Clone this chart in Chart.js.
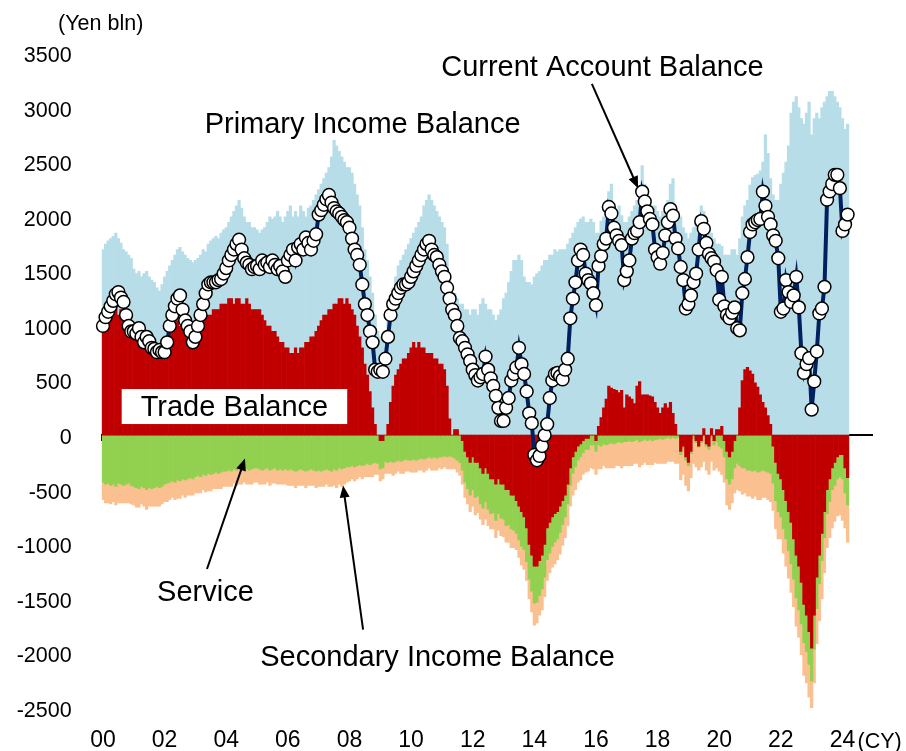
<!DOCTYPE html>
<html>
<head>
<meta charset="utf-8">
<script src="https://cdn.jsdelivr.net/npm/chart.js@4.4.0/dist/chart.umd.min.js"></script>
<style>
  html, body { margin: 0; padding: 0; background: #fff; }
  #wrap { width: 906px; height: 751px; }
</style>
</head>
<body>
<div id="wrap"><canvas id="bopChart" width="906" height="751"></canvas></div>
<script>
// Japan balance of payments, monthly, Jan 2000 - Mar 2024 (Yen bln)
const startYear = 2000;
const endYear = 2024;
const yearTicks = ['00', '02', '04', '06', '08', '10', '12', '14', '16', '18', '20', '22', '24'];

const tradeBalance = [
  1050, 1100, 1150, 1150, 1200, 1150, 1100, 1150, 1100, 1050, 1050, 1000,
  950, 900, 850, 850, 800, 800, 750, 750, 750, 700, 750, 750,
  800, 850, 950, 1000, 1050, 1050, 1000, 1050, 1000, 1000, 950, 1000,
  1000, 1000, 1050, 1050, 1100, 1100, 1100, 1150, 1150, 1150, 1200, 1200,
  1200, 1250, 1250, 1200, 1250, 1250, 1200, 1200, 1250, 1200, 1150, 1150,
  1150, 1150, 1100, 1050, 1000, 1000, 950, 950, 900, 850, 850, 800,
  800, 750, 750, 800, 750, 800, 800, 850, 850, 900, 900, 950,
  1000, 1050, 1100, 1100, 1150, 1150, 1200, 1200, 1250, 1250, 1200, 1250,
  1200, 1150, 1100, 1000, 900, 800, 650, 550, 400, 250, 100, 0,
  -50, -50, 0, 100, 300, 450, 550, 600, 650, 700, 700, 750,
  800, 850, 800, 850, 800, 800, 750, 750, 750, 700, 700, 650,
  650, 600, 450, 150, 0, 50, 50, 0, -50, -150, -200, -250,
  -200, -250, -250, -300, -350, -300, -350, -400, -400, -450, -400, -450,
  -450, -500, -500, -550, -550, -600, -650, -700, -750, -850, -1000, -1100,
  -1200, -1200, -1150, -1100, -1000, -850, -800, -750, -720, -700, -650, -600,
  -550, -450, -300, -200, -150, -100, -80, -50, -30, -30, 0, 0,
  -50, 80, 160, 250, 330, 450, 430, 420, 410, 390, 410, 250,
  370, 350, 330, 290, 450, 490, 370, 370, 370, 360, 350, 300,
  250, 200, 250, 290, 250, 300, 200, 100, 0, -150, -100, -200,
  -250, -150, 0, -50, -100, -50, 60, -80, -100, 60, -50, 50,
  50, 80, -50, -150, -200, -150, -50, 0, 250, 500, 600, 620,
  590, 560, 480, 440, 370, 300, 250, 180, 100, -100, -250, -350,
  -400, -500, -600, -700, -800, -950, -1100, -1200, -1350, -1550, -1650, -1800,
  -1950, -1650, -1300, -1100, -900, -700, -500, -400, -300, -250, -200, -180,
  -180, -300, -390
];

const serviceBalance = [
  -430, -450, -440, -460, -450, -470, -440, -450, -460, -450, -440, -460,
  -470, -480, -490, -470, -480, -500, -480, -490, -480, -470, -480, -470,
  -450, -440, -430, -420, -430, -410, -420, -400, -410, -400, -390, -400,
  -380, -370, -380, -360, -370, -350, -360, -350, -340, -350, -340, -330,
  -330, -320, -330, -310, -320, -300, -310, -300, -310, -320, -310, -300,
  -300, -310, -320, -310, -300, -320, -310, -300, -320, -310, -320, -310,
  -320, -310, -320, -330, -320, -310, -320, -330, -320, -310, -320, -330,
  -320, -330, -320, -310, -320, -330, -310, -320, -300, -310, -300, -290,
  -290, -280, -290, -280, -270, -280, -270, -260, -270, -260, -250, -260,
  -260, -250, -240, -250, -240, -250, -240, -230, -240, -230, -220, -230,
  -230, -220, -230, -220, -210, -220, -210, -200, -210, -200, -210, -200,
  -200, -190, -200, -190, -200, -210, -230, -250, -270, -280, -290, -300,
  -300, -320, -310, -330, -320, -310, -330, -320, -310, -330, -320, -310,
  -320, -330, -320, -310, -320, -300, -310, -320, -300, -310, -320, -330,
  -340, -330, -320, -310, -300, -290, -280, -270, -260, -250, -240, -220,
  -200, -180, -160, -150, -140, -130, -120, -110, -100, -100, -90, -90,
  -100, -90, -100, -80, -90, -80, -70, -80, -70, -60, -70, -60,
  -60, -50, -60, -50, -40, -60, -50, -40, -50, -40, -50, -40,
  -40, -30, -40, -30, -20, -30, -20, -30, -20, -30, -20, -30,
  -30, -20, -30, -20, -10, -20, -10, -20, -30, -20, -40, -60,
  -100, -120, -150, -250, -250, -250, -250, -260, -280, -300, -300, -320,
  -320, -330, -320, -340, -330, -320, -330, -340, -350, -340, -350, -350,
  -350, -360, -350, -360, -380, -370, -390, -400, -380, -350, -330, -300,
  -300, -310, -290, -260, -250, -240, -220, -210, -200, -210, -200, -200,
  -220, -230, -250
];

const secondaryIncome = [
  -160, -170, -180, -170, -160, -170, -180, -170, -160, -170, -180, -170,
  -170, -180, -170, -160, -170, -180, -170, -160, -170, -180, -170, -160,
  -160, -170, -160, -150, -160, -170, -160, -150, -160, -150, -160, -150,
  -150, -160, -150, -140, -150, -160, -150, -140, -150, -140, -150, -140,
  -140, -150, -140, -130, -140, -150, -140, -130, -140, -130, -140, -130,
  -130, -140, -130, -140, -130, -140, -130, -140, -130, -140, -130, -140,
  -140, -150, -140, -150, -140, -150, -140, -150, -140, -150, -140, -150,
  -150, -140, -150, -140, -150, -140, -150, -160, -150, -160, -150, -140,
  -130, -120, -130, -120, -110, -120, -110, -120, -110, -120, -110, -100,
  -110, -100, -110, -100, -110, -120, -110, -100, -110, -120, -110, -100,
  -110, -120, -110, -100, -110, -120, -110, -100, -110, -120, -110, -100,
  -110, -100, -110, -120, -110, -100, -110, -120, -130, -140, -140, -150,
  -150, -160, -150, -140, -150, -160, -150, -140, -150, -160, -150, -160,
  -160, -150, -160, -170, -160, -150, -160, -170, -180, -170, -180, -190,
  -200, -190, -180, -190, -180, -190, -180, -190, -200, -190, -200, -190,
  -190, -200, -190, -200, -210, -200, -210, -200, -210, -200, -210, -220,
  -210, -220, -210, -200, -210, -220, -230, -220, -210, -220, -230, -220,
  -220, -230, -220, -210, -220, -230, -220, -210, -220, -230, -220, -210,
  -220, -230, -220, -230, -220, -210, -220, -230, -240, -230, -240, -230,
  -230, -220, -230, -220, -210, -220, -230, -220, -230, -220, -230, -240,
  -230, -240, -230, -240, -230, -220, -230, -240, -230, -240, -230, -240,
  -240, -250, -240, -250, -260, -250, -240, -250, -260, -250, -260, -250,
  -200, -220, -250, -250, -260, -250, -260, -250, -280, -300, -290, -300,
  -300, -310, -320, -340, -350, -320, -310, -330, -350, -330, -340, -350,
  -380, -320, -340
];

const primaryIncome = [
  650, 650, 630, 650, 620, 700, 700, 610, 600, 630, 600, 620,
  570, 580, 650, 600, 680, 700, 700, 670, 650, 650, 570, 630,
  650, 650, 600, 600, 600, 650, 720, 630, 650, 620, 650, 580,
  600, 620, 600, 650, 580, 650, 680, 650, 670, 650, 650, 680,
  700, 700, 750, 850, 850, 900, 880, 800, 700, 750, 750, 750,
  730, 700, 780, 850, 950, 1000, 1030, 1050, 1150, 1150, 1100, 1200,
  1250, 1350, 1250, 1250, 1250, 1300, 1250, 1150, 1230, 1200, 1250, 1250,
  1250, 1250, 1250, 1300, 1300, 1400, 1500, 1450, 1350, 1300, 1300, 1200,
  1250, 1250, 1200, 1200, 1200, 1100, 1050, 1050, 1050, 1050, 1000, 950,
  900, 880, 950, 950, 900, 900, 900, 950, 950, 950, 1000, 1000,
  1000, 1000, 1100, 1100, 1200, 1300, 1400, 1450, 1400, 1400, 1350, 1350,
  1300, 1300, 1300, 1300, 1300, 1250, 1200, 1200, 1200, 1150, 1150, 1100,
  1150, 1150, 1100, 1200, 1250, 1200, 1150, 1150, 1100, 1050, 1100, 1150,
  1250, 1300, 1400, 1500, 1600, 1600, 1650, 1600, 1450, 1400, 1400, 1380,
  1450, 1480, 1500, 1550, 1600, 1600, 1650, 1650, 1700, 1680, 1700, 1700,
  1700, 1750, 1800, 1850, 1900, 1950, 1980, 2000, 1950, 1950, 1980, 1950,
  1850, 1770, 1800, 1750, 1750, 1780, 1870, 1700, 1640, 1710, 1600, 1700,
  1580, 1650, 1720, 1810, 1700, 1710, 2100, 1930, 1830, 1790, 1750, 1800,
  1800, 1800, 1800, 1810, 1900, 2000, 2150, 2000, 2050, 2000, 1900, 1850,
  1800, 1850, 1900, 1950, 2000, 2100, 1990, 1950, 1900, 1790, 1800, 1700,
  1700, 1650, 1650, 1650, 1650, 1700, 1700, 1650, 1550, 1500, 1500, 1530,
  1700, 1800, 1900, 1950, 2050, 2200, 2500, 2400, 2250, 2200, 2150, 2150,
  2300, 2400, 2500, 2650, 2950, 3050, 3100, 3000, 2900, 2850, 2950, 3050,
  2750, 2900, 2950, 2900, 3000, 3050, 3100, 3150, 3150, 3100, 3050, 3000,
  2900, 2800, 2850
];

const currentAccount = [
  1000, 1080, 1130, 1180, 1230, 1290, 1310, 1260, 1220, 1100, 1000, 950,
  950, 930, 980, 900, 850, 900, 860, 800, 790, 760, 780, 760,
  760, 850, 1000, 1100, 1180, 1250, 1280, 1150, 1050, 1000, 950, 850,
  900, 1000, 1100, 1200, 1300, 1380, 1400, 1400, 1400, 1420, 1430, 1480,
  1530, 1600, 1650, 1700, 1750, 1790, 1700, 1620, 1580, 1560, 1520, 1540,
  1550, 1520, 1600, 1560, 1580, 1540, 1600, 1560, 1520, 1550, 1500, 1450,
  1600, 1650, 1700, 1600, 1720, 1750, 1700, 1810, 1760, 1700, 1780, 1840,
  2020, 2060, 2110, 2160, 2200, 2130, 2080, 2050, 2030, 2000, 1970, 1950,
  1900, 1800, 1700, 1650, 1560, 1380, 1200, 1100, 950, 850, 600, 580,
  600, 580, 700, 900, 1100, 1200, 1250, 1300, 1350, 1380, 1380, 1400,
  1450, 1500, 1550, 1600, 1650, 1700, 1750, 1780, 1700, 1650, 1630, 1560,
  1500, 1450, 1350, 1250, 1150, 1100, 1000, 890, 860, 800, 740, 680,
  600, 550, 500, 530, 560, 720, 600, 520, 450, 360, 250, 130,
  130, 250, 340, 500, 560, 620, 800, 650, 560, 400, 200, 110,
  -180, -230, -190, -100, 0, 100, 340, 500, 560, 570, 540, 510,
  600, 700, 1070, 1250, 1400, 1600, 1700, 1650, 1480, 1420, 1390, 1300,
  1190, 1550, 1640, 1750, 1800, 2090, 2030, 1900, 1830, 1780, 1740, 1420,
  1500, 1600, 1800, 1850, 1870, 1950, 2230, 2140, 2050, 1980, 1930, 1700,
  1630, 1570, 1670, 1830, 1950, 2070, 2010, 1800, 1710, 1540, 1420, 1160,
  1200, 1280, 1400, 1480, 1700, 1960, 1890, 1760, 1660, 1620, 1590, 1510,
  1240, 1450, 1180, 1100, 1070, 1120, 1170, 980, 960, 1300, 1430, 1630,
  1860, 1930, 1950, 1970, 1980, 2230, 2100, 2000, 1930, 1830, 1780, 1620,
  1130, 1160, 1420, 1310, 1220, 1280, 1450, 1170, 750, 570, 650, 705,
  234, 492, 766, 1115, 1160, 1358, 2157, 2232, 2300, 2384, 2384, 2262,
  1870, 1930, 2020
];

// annotation anchors in chart units: [month index from Jan 2000, Yen bln]
const labelNotes = [
  { text: 'Current Account Balance', at: [194.5, 3370] },
  { text: 'Primary Income Balance', at: [101.1, 2850] },
  { text: 'Trade Balance', at: [51.2, 262], box: true },
  { text: 'Service', at: [39.9, -1440] },
  { text: 'Secondary Income Balance', at: [130.3, -2030] }
];
const labelArrows = [
  { from: [190.4, 3218], to: [208.4, 2262] },
  { from: [40.5, -1226], to: [55.3, -215] },
  { from: [101.3, -1781], to: [93.5, -461] }
];

const months = [];
for (let yr = startYear; yr <= endYear; yr++) {
  for (let m = 1; m <= 12; m++) months.push(yr + '-' + String(m).padStart(2, '0'));
}

const FONT = '"Liberation Sans", Arial, sans-serif';

function drawArrow(ctx, x1, y1, x2, y2) {
  const a = Math.atan2(y2 - y1, x2 - x1);
  const len = 12, half = 5;
  ctx.beginPath();
  ctx.moveTo(x1, y1);
  ctx.lineTo(x2 - len * 0.7 * Math.cos(a), y2 - len * 0.7 * Math.sin(a));
  ctx.lineWidth = 2;
  ctx.stroke();
  ctx.beginPath();
  ctx.moveTo(x2, y2);
  ctx.lineTo(x2 - len * Math.cos(a) + half * Math.sin(a), y2 - len * Math.sin(a) - half * Math.cos(a));
  ctx.lineTo(x2 - len * Math.cos(a) - half * Math.sin(a), y2 - len * Math.sin(a) + half * Math.cos(a));
  ctx.closePath();
  ctx.fill();
}

const annotate = {
  id: 'annotate',
  afterDraw(chart) {
    const { ctx, chartArea } = chart;
    const x = chart.scales.x, y = chart.scales.y;
    ctx.save();
    ctx.fillStyle = '#000';
    ctx.strokeStyle = '#000';
    ctx.textBaseline = 'middle';
    ctx.textAlign = 'center';
    ctx.font = '29px ' + FONT;
    labelNotes.forEach(n => {
      const px = x.getPixelForValue(n.at[0]);
      const py = y.getPixelForValue(n.at[1]);
      if (n.box) {
        const w = ctx.measureText(n.text).width + 38;
        ctx.fillStyle = '#fff';
        ctx.fillRect(px - w / 2, py - 17.5, w, 35);
        ctx.fillStyle = '#000';
      }
      ctx.fillText(n.text, px, py + 1);
    });
    labelArrows.forEach(a => {
      drawArrow(ctx,
        x.getPixelForValue(a.from[0]), y.getPixelForValue(a.from[1]),
        x.getPixelForValue(a.to[0]), y.getPixelForValue(a.to[1]));
    });
    // unit captions
    ctx.font = '21.5px ' + FONT;
    ctx.fillText('(Yen bln)', chartArea.left - 1, chartArea.top - 29);
    ctx.textAlign = 'left';
    ctx.fillText('(CY)', x.getPixelForValue(months.indexOf('2024-01')) + 15, 742);
    ctx.restore();
  }
};

const ctx = document.getElementById('bopChart').getContext('2d');
const bopChart = new Chart(ctx, {
  type: 'bar',
  data: {
    labels: months,
    datasets: [
      {
        type: 'line',
        label: 'Current Account Balance',
        data: currentAccount,
        stack: 'ca',
        borderColor: '#002060',
        borderWidth: 4,
        pointRadius: 6.4,
        pointBackgroundColor: '#fff',
        pointBorderColor: '#000',
        pointBorderWidth: 1.5,
        tension: 0
      },
      {
        label: 'Trade Balance',
        data: tradeBalance,
        stack: 'bop',
        backgroundColor: '#C00000'
      },
      {
        label: 'Service',
        data: serviceBalance,
        stack: 'bop',
        backgroundColor: '#92D050'
      },
      {
        label: 'Secondary Income Balance',
        data: secondaryIncome,
        stack: 'bop',
        backgroundColor: '#FAC090'
      },
      {
        label: 'Primary Income Balance',
        data: primaryIncome,
        stack: 'bop',
        backgroundColor: '#B7DDE8'
      }
    ]
  },
  options: {
    responsive: false,
    animation: false,
    devicePixelRatio: 1,
    events: [],
    datasets: {
      bar: { barPercentage: 1, categoryPercentage: 1, borderWidth: 0 }
    },
    layout: { padding: { left: 0, right: 34, top: 53, bottom: 0 } },
    scales: {
      x: {
        type: 'category',
        stacked: true,
        offset: true,
        grid: { display: false, offset: true, drawTicks: false },
        border: { display: false },
        ticks: {
          autoSkip: false,
          maxRotation: 0,
          minRotation: 0,
          padding: 19,
          color: '#000',
          font: { family: FONT, size: 23 },
          callback: function (value) {
            const lab = this.getLabelForValue(value);
            const yy = lab.slice(2, 4);
            return (lab.endsWith('-01') && yearTicks.includes(yy)) ? yy : '';
          }
        },
        afterFit: s => { s.height = 39; }
      },
      xz: {
        type: 'category',
        position: { y: 0 },
        offset: true,
        z: 1,
        grid: {
          offset: true,
          drawOnChartArea: false,
          drawTicks: true,
          tickLength: 5,
          lineWidth: 2,
          color: c => (c.index % 12 === 0 ? '#000' : 'rgba(0,0,0,0)')
        },
        border: { display: true, color: '#000', width: 2 },
        ticks: { display: false, autoSkip: false }
      },
      y: {
        stacked: true,
        min: -2500,
        max: 3500,
        grid: { display: false, drawTicks: false },
        border: { display: false },
        ticks: {
          stepSize: 500,
          padding: 30,
          labelOffset: 3,
          color: '#000',
          font: { family: FONT, size: 21.5 },
          callback: v => String(v)
        },
        afterFit: s => { s.width = 101.7; }
      }
    },
    plugins: {
      legend: { display: false },
      tooltip: { enabled: false }
    }
  },
  plugins: [annotate]
});
</script>
</body>
</html>
